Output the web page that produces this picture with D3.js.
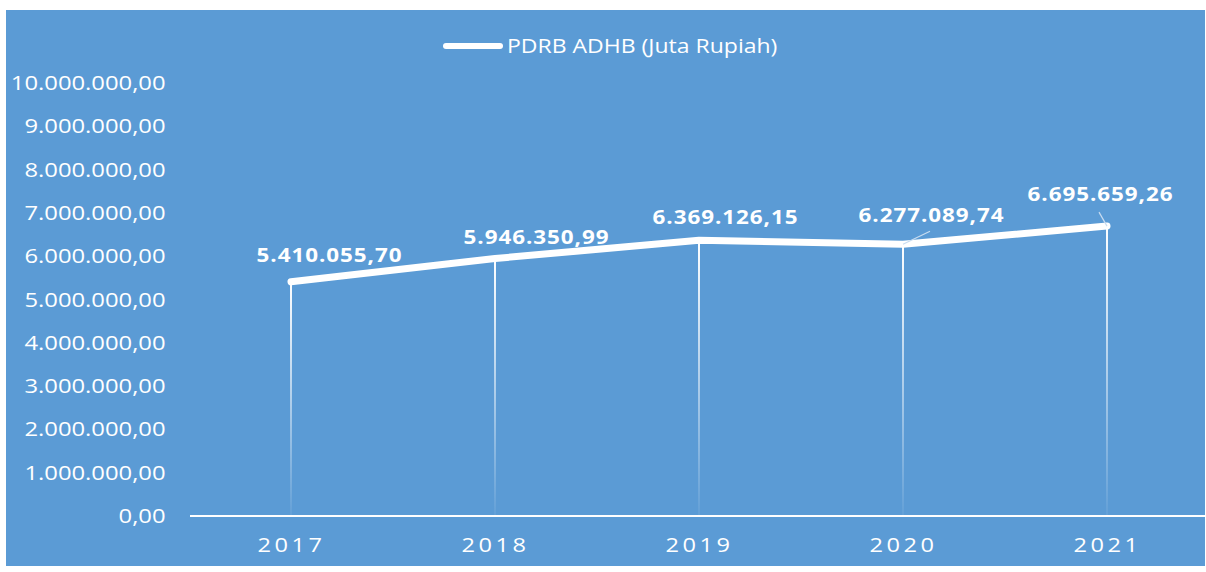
<!DOCTYPE html>
<html>
<head>
<meta charset="utf-8">
<script src="https://cdn.jsdelivr.net/npm/d3@7"></script>
<style>
  body { margin: 0; background: #fff; }
  svg { display: block; }
</style>
</head>
<body>
<div id="chart"></div>
<script>
const years = ['2017', '2018', '2019', '2020', '2021'];
const pdrb = [5410055.70, 5946350.99, 6369126.15, 6277089.74, 6695659.26];
const labels = ['5.410.055,70', '5.946.350,99', '6.369.126,15', '6.277.089,74', '6.695.659,26'];
const yTicks = [0, 1000000, 2000000, 3000000, 4000000, 5000000, 6000000, 7000000, 8000000, 9000000, 10000000];
const seriesName = 'PDRB ADHB (Juta Rupiah)';

const width = 1206;
const height = 572;
const blue = '#5b9bd5';
const font = 'Open Sans, sans-serif';

// number format like 1.000.000,00
const idFormat = d3.formatLocale({ decimal: ',', thousands: '.', grouping: [3], currency: ['', ''] }).format(',.2f');

// the original text is a bit wide, stretch it horizontally
const place = (px, py, s) => `translate(${px},${py}) scale(${s},1)`;

const svg = d3.select('#chart')
  .append('svg')
  .attr('width', width)
  .attr('height', height);

svg.append('rect')
  .attr('x', 6).attr('y', 10)
  .attr('width', 1199).attr('height', 556)
  .attr('fill', blue);

const defs = svg.append('defs');
const grad = defs.append('linearGradient')
  .attr('id', 'drop')
  .attr('x1', 0).attr('y1', 0).attr('x2', 0).attr('y2', 1);
grad.append('stop').attr('offset', '0%').attr('stop-color', '#fff').attr('stop-opacity', 1);
grad.append('stop').attr('offset', '100%').attr('stop-color', '#fff').attr('stop-opacity', 0.05);

const x = d3.scalePoint()
  .domain(years)
  .range([291, 1107]);

const y = d3.scaleLinear()
  .domain([0, 10000000])
  .range([516, 83]);

// y axis labels
svg.append('g')
  .selectAll('text')
  .data(yTicks)
  .enter()
  .append('text')
  .attr('transform', d => place(165.5, y(d), 1.19))
  .attr('dy', '0.35em')
  .attr('text-anchor', 'end')
  .style('font-family', font)
  .style('font-size', '20px')
  .style('fill', '#fff')
  .text(d => idFormat(d));

// drop lines
svg.append('g')
  .selectAll('rect')
  .data(pdrb)
  .enter()
  .append('rect')
  .attr('x', (d, i) => x(years[i]) - 1)
  .attr('y', d => y(d))
  .attr('width', 2)
  .attr('height', d => y(0) - y(d))
  .attr('fill', 'url(#drop)');

// x axis line
svg.append('line')
  .attr('x1', 190).attr('x2', 1205)
  .attr('y1', y(0)).attr('y2', y(0))
  .attr('stroke', '#fff')
  .attr('stroke-width', 2);

// x labels
svg.append('g')
  .selectAll('text')
  .data(years)
  .enter()
  .append('text')
  .attr('transform', d => place(x(d) + 0.5, 552, 1.18))
  .attr('text-anchor', 'middle')
  .style('font-family', font)
  .style('font-size', '20px')
  .style('letter-spacing', '3px')
  .style('fill', '#fff')
  .text(d => d);

// main line
const line = d3.line()
  .x((d, i) => x(years[i]))
  .y(d => y(d));

svg.append('path')
  .datum(pdrb)
  .attr('d', line)
  .attr('fill', 'none')
  .attr('stroke', '#fff')
  .attr('stroke-width', 7)
  .attr('stroke-linecap', 'round')
  .attr('stroke-linejoin', 'round');

// data label offsets (from the point)
const labelDx = [38, 41, 26, 28, -7];
const labelDy = [-26, -21.5, -23, -29, -32];

// leader lines for shifted labels
const leaders = [
  { i: 3, dx: 27, dy: -13 },
  { i: 4, dx: -8, dy: -14 }
];
svg.append('g')
  .selectAll('line')
  .data(leaders)
  .enter()
  .append('line')
  .attr('x1', d => x(years[d.i]))
  .attr('y1', d => y(pdrb[d.i]))
  .attr('x2', d => x(years[d.i]) + d.dx)
  .attr('y2', d => y(pdrb[d.i]) + d.dy)
  .attr('stroke', '#c8dcf0')
  .attr('stroke-width', 1.2);

svg.append('g')
  .selectAll('text')
  .data(pdrb)
  .enter()
  .append('text')
  .attr('transform', (d, i) => place(x(years[i]) + labelDx[i] + 0.5, y(d) + labelDy[i], 1.18))
  .attr('dy', '0.35em')
  .attr('text-anchor', 'middle')
  .style('font-family', font)
  .style('font-weight', 'bold')
  .style('font-size', '19px')
  .style('letter-spacing', '0.8px')
  .style('fill', '#fff')
  .text((d, i) => labels[i]);

// legend
const legend = svg.append('g');
legend.append('line')
  .attr('x1', 446).attr('x2', 500)
  .attr('y1', 46).attr('y2', 46)
  .attr('stroke', '#fff')
  .attr('stroke-width', 6)
  .attr('stroke-linecap', 'round');
legend.append('text')
  .attr('transform', place(507, 46, 1.15))
  .attr('dy', '0.35em')
  .style('font-family', font)
  .style('font-size', '20px')
  .style('fill', '#fff')
  .text(seriesName);
</script>
</body>
</html>
